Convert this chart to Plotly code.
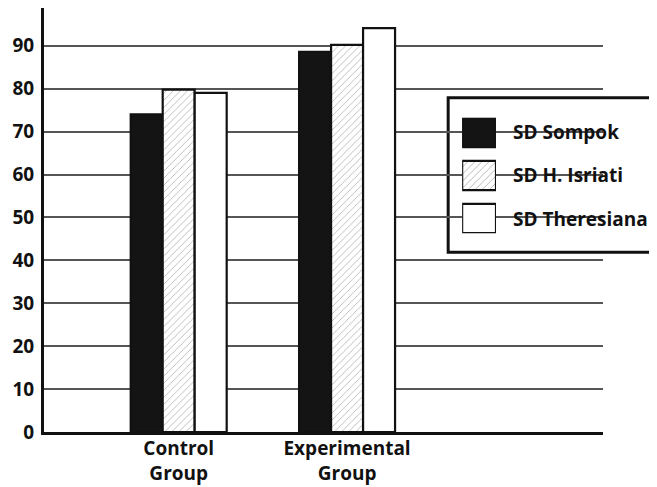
import plotly.graph_objects as go

categories = ["Control<br>Group", "Experimental<br>Group"]
series_names = ["SD Sompok", "SD H. Isriati", "SD Theresiana"]
sompok = [74, 88.6]
isriati = [79.8, 90.2]
theresiana = [79.0, 94.1]
y_ticks = [0, 10, 20, 30, 40, 50, 60, 70, 80, 90]

FONT = "Open Sans"
fills = ["#141414", "white", "white"]
patterns = ["", "/", ""]

fig = go.Figure()
for name, vals, fc, pat in zip(series_names, [sompok, isriati, theresiana], fills, patterns):
    fig.add_trace(go.Bar(
        x=categories, y=vals, name=name, showlegend=False,
        marker=dict(color=fc, line=dict(color="#111", width=2.2),
                    pattern=dict(shape=pat, fgcolor="#555", bgcolor="white", size=5, solidity=0.15) if pat else None),
        xaxis="x", yaxis="y",
    ))

# custom legend swatches (horizontal bars on a small helper axis)
fig.add_trace(go.Bar(
    x=[1, 1, 1], y=series_names, orientation="h", width=0.68, showlegend=False,
    marker=dict(color=fills, line=dict(color="#111", width=2.2),
                pattern=dict(shape=patterns, fgcolor="#555", bgcolor="white", size=5, solidity=0.15)),
    xaxis="x2", yaxis="y2", hoverinfo="skip",
))

fig.update_layout(
    width=657, height=487,
    margin=dict(l=36, r=62, t=0, b=63),
    paper_bgcolor="white", plot_bgcolor="white",
    barmode="group", bargap=0.43, bargroupgap=0,
    font=dict(family=FONT, color="#111"),
    xaxis=dict(range=[-0.8, 2.52], showline=True, linecolor="#111", linewidth=3,
               showgrid=False, ticks="", tickfont=dict(size=19, family=FONT, weight="bold"),
               ticklabelstandoff=-3, zeroline=False),
    yaxis=dict(range=[0, 98.8], tickvals=y_ticks, showline=True, linecolor="#111", linewidth=3,
               showgrid=True, gridcolor="#555", gridwidth=1.5, zeroline=False, ticks="",
               ticklabelstandoff=3,
               tickfont=dict(size=19, family=FONT, weight="bold")),
    xaxis2=dict(domain=[0.748, 0.8086], range=[0, 1], visible=False, anchor="y2"),
    yaxis2=dict(domain=[0.469, 0.741], range=[2.34, -0.34], visible=False, anchor="x2",
                type="category", categoryorder="array", categoryarray=series_names),
)

fig.add_shape(type="rect", xref="x2 domain", yref="y2 domain",
              x0=(448 - 462) / 34, x1=(653 - 462) / 34,
              y0=(233 - 98) / 115, y1=(233 - 252) / 115,
              line=dict(color="#111", width=3), fillcolor="white", layer="below")

for i, name in enumerate(series_names):
    fig.add_annotation(x=1, xref="x2 domain", y=name, yref="y2", xanchor="left",
                       xshift=15, text=f"<b>{name}</b>", showarrow=False,
                       font=dict(size=19, family=FONT, color="#111"))

fig.write_html("out.html")
